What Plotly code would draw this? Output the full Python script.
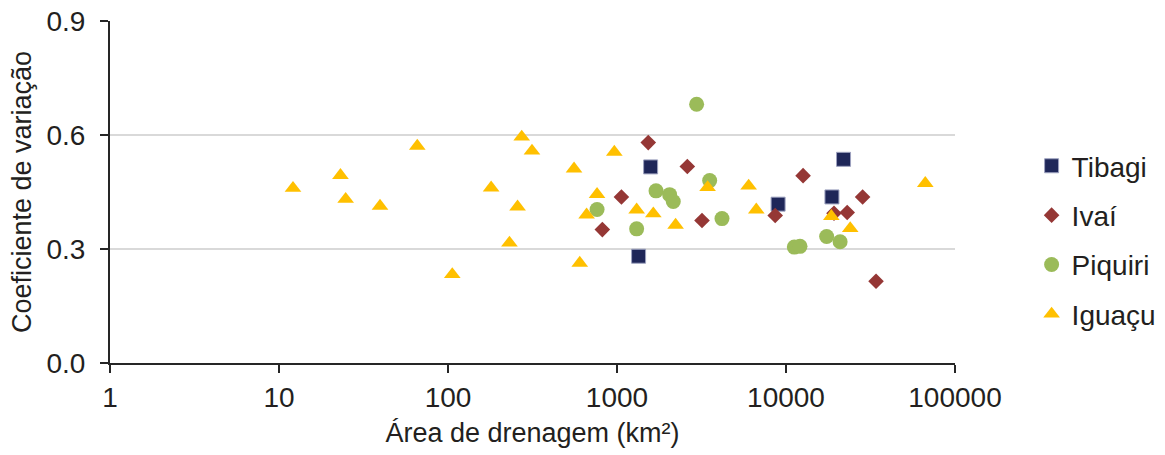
import plotly.graph_objects as go

# ---- data ----
tibagi_area = [1342, 1581, 8980, 18700, 21900]
tibagi_cv = [0.281, 0.516, 0.418, 0.437, 0.536]

ivai_area = [819, 1062, 1531, 2607, 3184, 8630, 12620, 19230, 23020, 28400, 34100]
ivai_cv = [0.351, 0.437, 0.580, 0.517, 0.375, 0.388, 0.493, 0.394, 0.396, 0.437, 0.215]

piquiri_area = [762, 1307, 1702, 2048, 2153, 2959, 3534, 4180, 11200, 12100, 17400, 20900]
piquiri_cv = [0.404, 0.353, 0.453, 0.443, 0.425, 0.681, 0.480, 0.380, 0.305, 0.307, 0.333, 0.319]

iguacu_area = [12.1, 23.1, 24.8, 39.6, 65.8, 106, 180, 231, 258, 273, 314, 557, 602, 661,
               762, 964, 1307, 1640, 2222, 3436, 6011, 6670, 18550, 23990, 66700]
iguacu_cv = [0.460, 0.494, 0.431, 0.413, 0.571, 0.233, 0.461, 0.316, 0.411, 0.595, 0.558,
             0.511, 0.263, 0.390, 0.444, 0.555, 0.403, 0.393, 0.363, 0.462, 0.466, 0.403,
             0.386, 0.354, 0.473]

x_tickvals = [1, 10, 100, 1000, 10000, 100000]
x_ticktext = ["1", "10", "100", "1000", "10000", "100000"]
y_tickvals = [0.0, 0.3, 0.6, 0.9]
y_ticktext = ["0.0", "0.3", "0.6", "0.9"]

TEXT = "#231F20"
AXIS = "#262626"

fig = go.Figure()
fig.add_trace(go.Scatter(x=tibagi_area, y=tibagi_cv, mode="markers", name="Tibagi",
                         legendgroup="a",
                         marker=dict(symbol="square", size=14, color="#1F2759",
                                     line=dict(width=1, color="#9DA2BF"))))
fig.add_trace(go.Scatter(x=ivai_area, y=ivai_cv, mode="markers", name="Ivaí",
                         legendgroup="b",
                         marker=dict(symbol="diamond", size=12, color="#953735",
                                     line=dict(width=0))))
fig.add_trace(go.Scatter(x=piquiri_area, y=piquiri_cv, mode="markers", name="Piquiri",
                         legendgroup="c",
                         marker=dict(symbol="circle", size=15, color="#9BBB59",
                                     line=dict(width=0))))
fig.add_trace(go.Scatter(x=iguacu_area, y=iguacu_cv, mode="markers", name="Iguaçu",
                         legendgroup="d",
                         marker=dict(symbol="triangle-up", size=14.5, color="#FFC000",
                                     line=dict(width=0))))

fig.update_layout(
    width=1165, height=455,
    margin=dict(l=110, r=210, t=21, b=92, autoexpand=False),
    plot_bgcolor="white", paper_bgcolor="white",
    font=dict(family="Liberation Sans, Arial, sans-serif", size=27, color=TEXT),
    showlegend=True,
    legend=dict(xref="container", yref="container", x=0.8855, xanchor="left",
                y=0.69, yanchor="top",
                font=dict(size=28, color=TEXT), tracegroupgap=10,
                bgcolor="rgba(0,0,0,0)"),
    xaxis=dict(type="log", range=[0, 5], tickvals=x_tickvals, ticktext=x_ticktext,
               ticks="outside", ticklen=8, tickwidth=1.5, tickcolor=AXIS,
               showline=True, linecolor=AXIS, linewidth=2, showgrid=False, zeroline=False,
               automargin=False,
               tickfont=dict(size=28, color=TEXT),
               title=dict(text="Área de drenagem (km²)", font=dict(size=27, color=TEXT),
                          standoff=12)),
    yaxis=dict(range=[0, 0.9], tickvals=y_tickvals, ticktext=y_ticktext,
               ticks="outside", ticklen=8, tickwidth=1.5, tickcolor=AXIS,
               showline=True, linecolor=AXIS, linewidth=2,
               showgrid=True, gridcolor="#D9D9D9", gridwidth=1.5, zeroline=False,
               automargin=False, ticklabelstandoff=9,
               tickfont=dict(size=28, color=TEXT),
               title=dict(text="Coeficiente de variação", font=dict(size=27, color=TEXT),
                          standoff=7)),
)

fig.write_html("out.html")
